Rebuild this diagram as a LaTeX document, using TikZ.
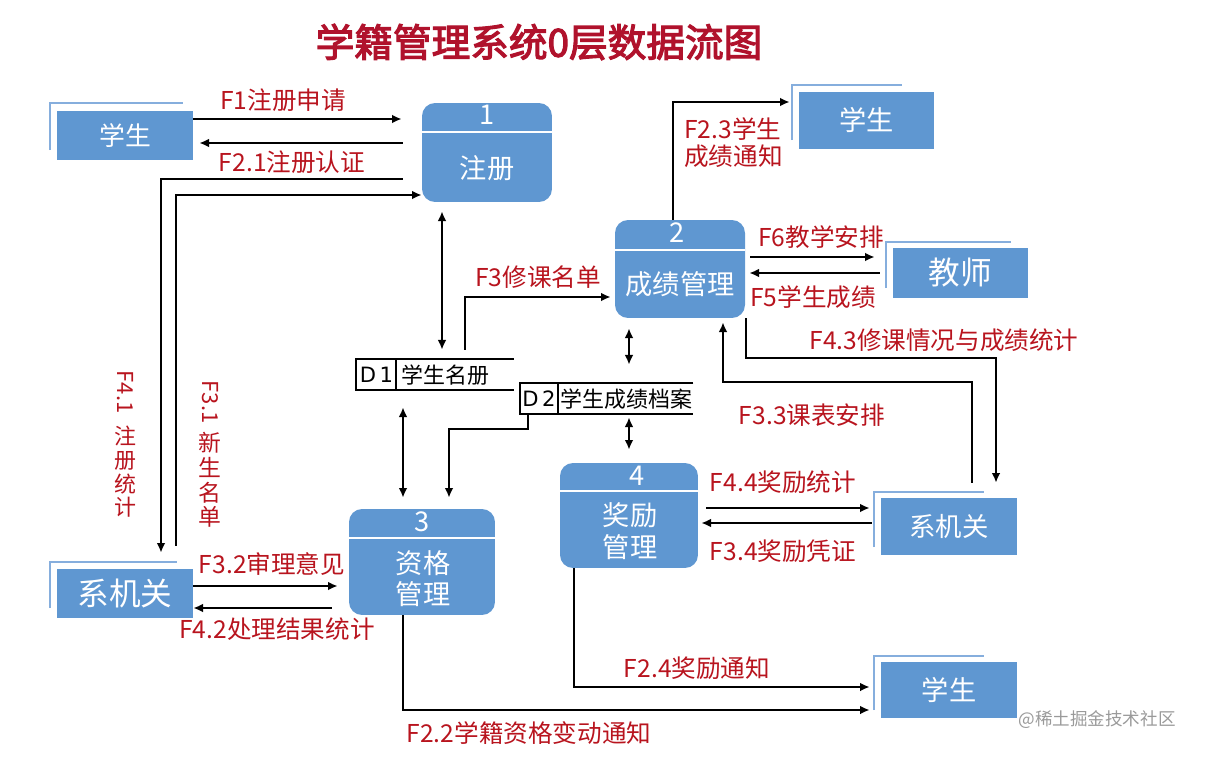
\documentclass[tikz,border=0pt]{standalone}
\usepackage{fontspec}
\setmainfont{Noto Sans CJK SC}
\newfontfamily\titlefont[FakeBold=3]{Noto Sans CJK SC}
\newfontfamily\idfont{DejaVu Sans}
\usetikzlibrary{positioning,arrows.meta}
\definecolor{boxblue}{HTML}{5F97D1}
\definecolor{edgeblue}{HTML}{86AEDD}
\definecolor{flowred}{HTML}{B8141E}
\definecolor{titlered}{HTML}{B0122C}
\definecolor{wmgray}{HTML}{9A9A9A}

\tikzset{
  proc/.style={fill=boxblue, rounded corners=0.26cm, inner sep=0pt},
  procsep/.style={white, line width=1.6pt},
  proctxt/.style={text=white, font=\fontsize{15.5}{18}\selectfont, align=center, inner sep=0pt},
  ent/.style={fill=boxblue, inner sep=0pt, text=white, font=\fontsize{15.5}{18}\selectfont},
  entedge/.style={edgeblue, line width=1.5pt},
  flow/.style={line width=1.2pt, -{Latex[length=5.5pt,width=5pt]}},
  both/.style={line width=1.2pt, {Latex[length=5.5pt,width=5pt]}-{Latex[length=5.5pt,width=5pt]}},
  lab/.style={text=flowred, font=\fontsize{14}{16}\selectfont, inner sep=0pt},
  vlab/.style={lab, align=center, font=\fontsize{12.5}{13.5}\selectfont},
  store/.style={inner sep=0pt},
  storeline/.style={line width=1.2pt},
  storetxt/.style={inner sep=0pt, font=\fontsize{12.5}{14}\selectfont},
}

\begin{document}
\begin{tikzpicture}[x=0.02cm, y=-0.02cm]
\useasboundingbox (0,0) rectangle (1209,757);

\node[text=titlered, font=\titlefont\fontsize{22}{24}\selectfont] (title) at (539,42) {学籍管理系统0层数据流图};

% processes
\node[proc, minimum width=2.6cm, minimum height=1.98cm] (reg) at (487,152.5) {};
\draw[procsep] (reg.west |- 0,132) -- (reg.east |- 0,132);
\node[proctxt] (reg-n) at (487,115) {1};
\node[proctxt] (reg-t) at (487,168) {注册};

\node[proc, minimum width=2.6cm, minimum height=1.96cm] (gm) at (680,269) {};
\draw[procsep] (gm.west |- 0,250) -- (gm.east |- 0,250);
\node[proctxt] (gm-n) at (677,233) {2};
\node[proctxt] (gm-t) at (680,284) {成绩管理};

\node[proc, minimum width=2.92cm, minimum height=2.12cm] (qual) at (422,562) {};
\draw[procsep] (qual.west |- 0,538) -- (qual.east |- 0,538);
\node[proctxt] (qual-n) at (422,522) {3};
\node[proctxt, font=\fontsize{15.5}{18}\selectfont] (qual-t) at (423,579) {资格\\[-0.5pt]管理};

\node[proc, minimum width=2.76cm, minimum height=2.1cm] (aw) at (629,515.5) {};
\draw[procsep] (aw.west |- 0,491) -- (aw.east |- 0,491);
\node[proctxt] (aw-n) at (637,476) {4};
\node[proctxt] (aw-t) at (630,531) {奖励\\[0.5pt]管理};

% external entities
\draw[entedge] (50,150) |- (183,103);
\node[ent, minimum width=2.72cm, minimum height=0.98cm, font=\fontsize{14.7}{17}\selectfont] (stuA) at (125,135.5) {学生};
\draw[entedge] (792,140) |- (902,85);
\node[ent, minimum width=2.7cm, minimum height=1.14cm] (stuB) at (866.5,120.5) {学生};
\draw[entedge] (886,288) |- (1011,242);
\node[ent, minimum width=2.7cm, minimum height=1.0cm, font=\fontsize{18}{20}\selectfont] (tch) at (960.5,273) {教师};
\draw[entedge] (874,547) |- (984,492);
\node[ent, minimum width=2.72cm, minimum height=1.14cm, font=\fontsize{15}{18}\selectfont] (deptR) at (949,526.5) {系机关};
\draw[entedge] (874,710) |- (984,656);
\node[ent, minimum width=2.72cm, minimum height=1.12cm] (stuC) at (949,690) {学生};
\draw[entedge] (50,608) |- (177,562);
\node[ent, minimum width=2.72cm, minimum height=0.98cm, font=\fontsize{18}{20}\selectfont] (deptL) at (125,593.5) {系机关};

% data stores
\node[store, minimum width=3.14cm, minimum height=0.62cm] (d1) at (435,374.5) {};
\draw[storeline] (d1.north east) -- (d1.north west) -- (d1.south west) -- (d1.south east);
\draw[storeline] (396,359) -- (396,390);
\node[storetxt, font=\idfont\fontsize{12}{14}\selectfont] (d1-id) at (376.5,375) {D\kern2pt1};
\node[storetxt, anchor=west] (d1-t) at (401,375) {学生名册};

\node[store, minimum width=3.46cm, minimum height=0.62cm] (d2) at (606.5,398.5) {};
\draw[storeline] (d2.north east) -- (d2.north west) -- (d2.south west) -- (d2.south east);
\draw[storeline] (558,383) -- (558,414);
\node[storetxt, font=\idfont\fontsize{12}{14}\selectfont] (d2-id) at (539,399) {D\kern2pt2};
\node[storetxt, anchor=west] (d2-t) at (560,399) {学生成绩档案};

% registration and the left side
\draw[flow, shorten >=0.4cm] (stuA.east |- 0,119) -- (reg.west |- 0,119);
\node[lab] (lF1) at (283,100) {F1注册申请};
\draw[flow, shorten <=0.38cm, shorten >=0.12cm] (reg.west |- 0,143) -- (stuA.east |- 0,143);
\node[lab] (lF21) at (292,162) {F2.1注册认证};
\draw[flow, shorten <=0.38cm, shorten >=0.32cm] (reg.west |- 0,179) -- (161,179) -- (deptL.north -| 161,0);
\node[vlab, rotate=-90] (lF41a) at (125,392) {F4.1};
\node[vlab] (lF41b) at (125,472) {注\\册\\统\\计};
\draw[flow, shorten <=0.46cm] (deptL.north -| 176,0) -- (176,195) -- (reg.west |- 0,195);
\node[vlab, rotate=-90] (lF31a) at (210,402) {F3.1};
\node[vlab, font=\fontsize{13}{14}\selectfont] (lF31b) at (210,480) {新\\生\\名\\单};
\draw[both, shorten <=0.18cm, shorten >=0.18cm] (reg.south -| 442,0) -- (d1.north -| 442,0);

% grade management
\draw[flow, shorten <=0.18cm, shorten >=0.08cm] (d1.north -| 465,0) -- (465,297) -- (gm.west |- 0,297);
\node[lab] (lF3) at (538,277) {F3修课名单};
\draw[flow, shorten >=0.18cm] (gm.north -| 673,0) -- (673,102) -- (stuB.west |- 0,102);
\node[lab, anchor=west, align=left, font=\fontsize{14}{15.5}\selectfont] (lF23) at (684,143) {F2.3学生\\成绩通知};
\draw[flow, shorten <=0.1cm, shorten >=0.36cm] (gm.east |- 0,257) -- (tch.west |- 0,257);
\node[lab] (lF6) at (821,237) {F6教学安排};
\draw[flow, shorten <=0.26cm, shorten >=0.08cm] (tch.west |- 0,273) -- (gm.east |- 0,273);
\node[lab] (lF5) at (813,297) {F5学生成绩};
\draw[flow, shorten >=0.3cm] (gm.south -| 746,0) -- (746,358) -- (996,358) -- (deptR.north -| 996,0);
\node[lab] (lF43) at (944,340) {F4.3修课情况与成绩统计};
\draw[flow, shorten <=0.3cm, shorten >=0.08cm] (deptR.north -| 972,0) -- (972,382) -- (723,382) -- (gm.south -| 723,0);
\node[lab] (lF33) at (812,415) {F3.3课表安排};
\draw[both, shorten <=0.2cm, shorten >=0.36cm] (gm.south -| 629,0) -- (d2.north -| 629,0);
\draw[both, shorten <=0.06cm, shorten >=0.26cm] (d2.south -| 629,0) -- (aw.north -| 629,0);

% qualification management
\draw[both, shorten <=0.34cm, shorten >=0.22cm] (d1.south -| 403,0) -- (qual.north -| 403,0);
\draw[flow, shorten >=0.22cm] (d2.south -| 528,0) -- (528,429) -- (449,429) -- (qual.north -| 449,0);
\draw[flow, shorten >=0.22cm] (deptL.east |- 0,586) -- (qual.west |- 0,586);
\node[lab] (lF32) at (272,564) {F3.2审理意见};
\draw[flow, shorten <=0.34cm] (qual.west |- 0,608) -- (deptL.east |- 0,608);
\node[lab] (lF42) at (277,629) {F4.2处理结果统计};
\draw[flow, shorten >=0.22cm] (qual.south -| 403,0) -- (403,710) -- (stuC.west |- 0,710);
\node[lab] (lF22) at (529,733) {F2.2学籍资格变动通知};

% award management
\draw[flow, shorten <=0.16cm, shorten >=0.22cm] (aw.east |- 0,508) -- (deptR.west |- 0,508);
\node[lab] (lF44) at (783,482) {F4.4奖励统计};
\draw[flow, shorten <=0.18cm, shorten >=0.06cm] (deptR.west |- 0,523) -- (aw.east |- 0,523);
\node[lab] (lF34) at (783,551) {F3.4奖励凭证};
\draw[flow, shorten >=0.22cm] (aw.south -| 574,0) -- (574,687) -- (stuC.west |- 0,687);
\node[lab] (lF24) at (697,668) {F2.4奖励通知};

\node[text=wmgray, font=\fontsize{10}{12}\selectfont] (wm) at (1097,720) {@稀土掘金技术社区};
\end{tikzpicture}
\end{document}
